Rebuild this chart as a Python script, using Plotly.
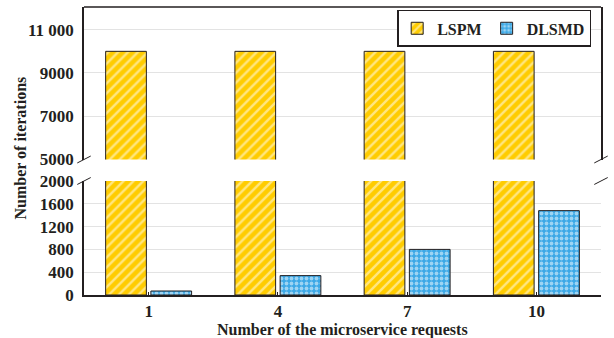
import plotly.graph_objects as go

categories = ["1", "4", "7", "10"]
lspm = [10000, 10000, 10000, 10000]
dlsmd = [70, 340, 800, 1480]

lower_ticks = [0, 400, 800, 1200, 1600, 2000]
upper_ticks = [5000, 7000, 9000, 11000]
upper_ticktext = ["5000", "7000", "9000", "11 000"]

FONT = "Liberation Serif"
AX = "#231F20"
GRID = "#E3E3E3"
TF = dict(family=FONT, size=17, color=AX, weight="bold")

lspm_marker = dict(color="#FFCC00", line=dict(color="#231F20", width=1),
                   pattern=dict(shape="/", fgcolor="white", bgcolor="#FFCC00", size=7, solidity=0.35))
dlsmd_marker = dict(color="#3BA8E6", line=dict(color="#231F20", width=1),
                    pattern=dict(shape=".", fgcolor="white", bgcolor="#3BA8E6", size=5, solidity=0.45))

fig = go.Figure()
for ax, show in (("y", False), ("y2", True)):
    xa = "x" if ax == "y" else "x2"
    fig.add_trace(go.Bar(x=categories, y=lspm, name="<b>LSPM</b>", marker=lspm_marker,
                         xaxis=xa, yaxis=ax, showlegend=show, legendgroup="a"))
    fig.add_trace(go.Bar(x=categories, y=dlsmd, name="<b>DLSMD</b>", marker=dlsmd_marker,
                         xaxis=xa, yaxis=ax, showlegend=show, legendgroup="b"))

low_top = 114 / 288
up_bot = 135.5 / 288

fig.update_layout(
    width=614, height=338,
    margin=dict(l=84, r=13, t=7, b=43, autoexpand=False),
    paper_bgcolor="white", plot_bgcolor="white",
    barmode="group", bargap=0.3, bargroupgap=0.1,
    font=dict(family=FONT, size=15, color=AX),
    showlegend=True,
    legend=dict(orientation="h", x=0.981, xanchor="right", y=0.99, yanchor="top",
                bordercolor=AX, borderwidth=1.5, bgcolor="white",
                font=dict(family=FONT, size=16, color=AX, weight="bold"),
                itemwidth=30, tracegroupgap=0),
    xaxis=dict(domain=[0, 1], anchor="y", type="category", showline=True, linecolor=AX, linewidth=1.5,
               ticks="inside", ticklen=3, tickcolor=AX, automargin=False,
               tickfont=TF),
    xaxis2=dict(domain=[0, 1], anchor="y2", matches="x", type="category", showticklabels=False,
                showline=False, ticks="", automargin=False),
    yaxis=dict(domain=[0, low_top], range=[0, 2000], tickvals=lower_ticks, automargin=False,
               showline=True, linecolor=AX, linewidth=1.5, ticks="", ticklabelstandoff=5,
               gridcolor=GRID, gridwidth=1, zeroline=False, tickfont=TF),
    yaxis2=dict(domain=[up_bot, 1], range=[5000, 12050], tickvals=upper_ticks, ticktext=upper_ticktext,
                showline=True, mirror=True, linecolor=AX, linewidth=1.5, ticks="", automargin=False,
                ticklabelstandoff=5,
                gridcolor=GRID, gridwidth=1, zeroline=False, tickfont=TF),
)

# top frame line
fig.add_shape(type="line", xref="paper", yref="paper", x0=0, x1=1, y0=1, y1=1,
              line=dict(color=AX, width=1.5))
# break marks
for yb in (up_bot, low_top):
    for xp in (0, 1):
        fig.add_shape(type="line", xref="paper", yref="paper",
                      x0=xp - 0.013, x1=xp + 0.013, y0=yb - 0.012, y1=yb + 0.012,
                      line=dict(color=AX, width=1))

fig.add_annotation(text="<b>Number of iterations</b>", xref="paper", yref="paper",
                   x=-0.123, y=0.51, xanchor="center", yanchor="middle", textangle=-90,
                   showarrow=False, font=dict(family=FONT, size=16, color=AX))
fig.add_annotation(text="<b>Number of the microservice requests</b>", xref="paper", yref="paper",
                   x=0.5, y=-0.085, xanchor="center", yanchor="top",
                   showarrow=False, font=dict(family=FONT, size=16, color=AX))

fig.write_html("out.html")
